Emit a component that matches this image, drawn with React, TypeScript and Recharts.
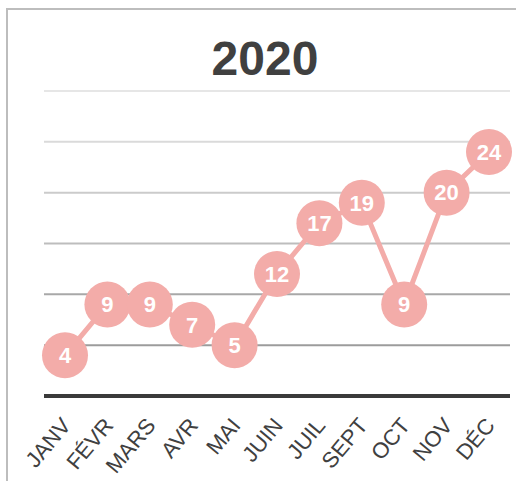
import { LineChart, Line, XAxis, YAxis, ReferenceLine, LabelList } from 'recharts';

const mois = ['JANV', 'FÉVR', 'MARS', 'AVR', 'MAI', 'JUIN', 'JUIL', 'SEPT', 'OCT', 'NOV', 'DÉC'];
const valeurs = [4, 9, 9, 7, 5, 12, 17, 19, 9, 20, 24];
const grilleValeurs = [5, 10, 15, 20, 25, 30];
const grilleCouleurs = ['#9c9c9c', '#a8a8a8', '#bdbdbd', '#cbcbcb', '#dadada', '#e6e6e6'];

const ROSE = '#f3aca9';
const POLICE = '"Liberation Sans", Arial, sans-serif';

const donnees = mois.map((m, i) => ({ mois: m, valeur: valeurs[i] }));

// Étiquettes de l'axe X inclinées
function TickMois({ x, y, payload }: any) {
  return (
    <g transform={`translate(${x + 7},${y + 22})`}>
      <text
        x={0}
        y={0}
        textAnchor="end"
        transform="rotate(-50)"
        fill="#404040"
        fontSize={22}
        fontFamily={POLICE}
      >
        {payload.value}
      </text>
    </g>
  );
}

export default function App() {
  return (
    <div style={{ position: 'fixed', left: 0, top: 0, width: 516, height: 481, background: '#fff', overflow: 'hidden' }}>
      <div
        style={{
          position: 'absolute',
          left: 6,
          top: 8,
          width: 520,
          height: 480,
          borderLeft: '2px solid #bdbdbd',
          borderTop: '2px solid #bdbdbd',
        }}
      />
      <div
        style={{
          position: 'absolute',
          left: 0,
          top: 35,
          width: 530,
          textAlign: 'center',
          fontFamily: POLICE,
          fontWeight: 'bold',
          fontSize: 48,
          lineHeight: '48px',
          color: '#404040',
        }}
      >
        2020
      </div>
      <div style={{ position: 'absolute', left: 0, top: 0 }}>
        <LineChart width={516} height={481} data={donnees} margin={{ top: 91, right: 6, bottom: 0, left: 44 }}>
          <YAxis hide domain={[0, 30]} ticks={[0, ...grilleValeurs]} />
          {grilleValeurs.map((v, i) => (
            <ReferenceLine key={v} y={v} stroke={grilleCouleurs[i]} strokeWidth={2} ifOverflow="extendDomain" />
          ))}
          <XAxis
            dataKey="mois"
            height={85}
            interval={0}
            padding={{ left: 21, right: 21 }}
            tickLine={false}
            axisLine={{ stroke: '#3a3a3a', strokeWidth: 4 }}
            tick={<TickMois />}
          />
          <Line
            type="linear"
            dataKey="valeur"
            stroke={ROSE}
            strokeWidth={5}
            dot={{ r: 23, fill: ROSE, stroke: ROSE, strokeWidth: 0 }}
            activeDot={false}
            isAnimationActive={false}
          >
            <LabelList
              dataKey="valeur"
              position="center"
              fill="#ffffff"
              fontSize={22}
              fontWeight="bold"
              fontFamily={POLICE}
            />
          </Line>
        </LineChart>
      </div>
    </div>
  );
}
